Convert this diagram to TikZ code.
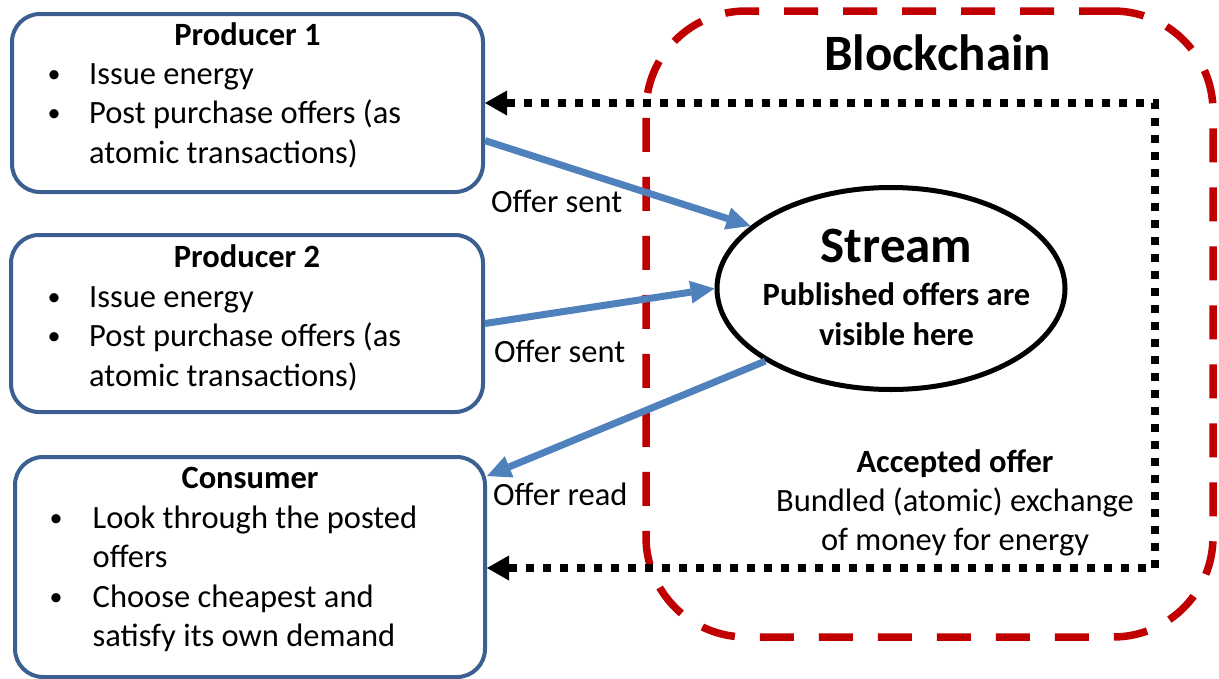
\documentclass[tikz,border=0pt]{standalone}
\usepackage{fontspec}
\setmainfont{Carlito}
\usepackage{array}
\usetikzlibrary{shapes.geometric,arrows.meta,calc}
\definecolor{boxblue}{RGB}{60,95,145}
\definecolor{arrowblue}{RGB}{79,129,189}
\definecolor{chainred}{RGB}{192,0,0}
\newcommand{\bul}{\hspace*{1pt}\raisebox{2pt}{\scalebox{0.8}{\textbullet}}}
\begin{document}
\begin{tikzpicture}[x=1pt,y=-1pt,
  infobox/.style={draw=boxblue, line width=4pt, rounded corners=28pt, rectangle, inner sep=0pt, fill=white},
  boxtitle/.style={font=\fontsize{32.5}{39.5}\selectfont\bfseries, inner sep=0pt, anchor=base},
  listtext/.style={font=\fontsize{32.5}{39.5}\selectfont, inner sep=0pt, anchor=base west},
  edgelabel/.style={font=\fontsize{32.5}{39.5}\selectfont, inner sep=0pt, anchor=base west},
  bigtitle/.style={font=\fontsize{51}{60}\selectfont\bfseries, inner sep=0pt, anchor=base},
  offer/.style={draw=arrowblue, line width=7pt, -{Triangle[length=24pt,width=23pt,line width=0pt]}},
  dotline/.style={draw=black, line width=7.5pt, dash pattern=on 8pt off 9pt,
    {Triangle[length=22pt,width=25pt,line width=0pt]}-{Triangle[length=22pt,width=25pt,line width=0pt]}},
  chainbox/.style={draw=chainred, line width=7.5pt, dash pattern=on 34pt off 25pt, rounded corners=100pt, rectangle, inner sep=0pt}
]
\useasboundingbox (0,0) rectangle (1219,678);

% Blockchain container
\node[chainbox, minimum width=567pt, minimum height=626pt] (chain) at (929.5,324) {};
\node[bigtitle] (bctitle) at (937.5,70) {Blockchain};

% Producer 1
\node[infobox, minimum width=471pt, minimum height=178pt] (p1) at (247.5,103) {};
\node[boxtitle] (p1t) at (247.5,45) {Producer 1};
\node[listtext] (p1l) at (46.5,84) {\begin{tabular}[t]{@{}p{42.5pt}@{}l@{}}\bul & Issue energy\\ \bul & Post purchase offers (as\\ & atomic transactions)\end{tabular}};

% Producer 2
\node[infobox, minimum width=472pt, minimum height=177pt] (p2) at (247,323.5) {};
\node[boxtitle] (p2t) at (247,267) {Producer 2};
\node[listtext] (p2l) at (46.5,307) {\begin{tabular}[t]{@{}p{42.5pt}@{}l@{}}\bul & Issue energy\\ \bul & Post purchase offers (as\\ & atomic transactions)\end{tabular}};

% Consumer
\node[infobox, minimum width=470pt, minimum height=220pt] (cons) at (250,567) {};
\node[boxtitle] (const) at (250,488) {Consumer};
\node[listtext] (consl) at (48.5,528) {\begin{tabular}[t]{@{}p{44pt}@{}l@{}}\bul & Look through the posted\\ & offers\\ \bul & Choose cheapest and\\ & satisfy its own demand\end{tabular}};

% Stream
\node[draw=black, ellipse, line width=5pt, minimum width=348pt, minimum height=202pt, fill=white, inner sep=0pt] (stream) at (891,288.5) {};
\node[bigtitle] (streamt) at (896.5,262) {Stream};
\node[font=\fontsize{32.5}{40}\selectfont\bfseries, inner sep=0pt, anchor=base] (streamd) at (896.5,305) {\begin{tabular}[t]{@{}c@{}}Published offers are\\visible here\end{tabular}};

% Accepted offer
\node[font=\fontsize{32.5}{39}\selectfont, inner sep=0pt, anchor=base] (acc) at (955,472) {\begin{tabular}[t]{@{}c@{}}\textbf{Accepted offer}\\Bundled (atomic) exchange\\of money for energy\end{tabular}};

% Edge labels
\node[edgelabel] (l1) at (491,212) {Offer sent};
\node[edgelabel] (l2) at (494,362) {Offer sent};
\node[edgelabel] (l3) at (493,505) {Offer read};

% Dotted accepted-offer connector
\coordinate (c1) at (1155,103);
\coordinate (c2) at (1155,568);
\draw[dotline] (p1.east |- c1) -- (c1) -- (c2) -- (cons.east |- c2);

% Blue offer arrows
\draw[offer] (p1.-9) -- (stream.156);
\draw[offer] (p2.east) -- (stream.west);
\draw[offer] (stream.210) -- (cons.21);
\end{tikzpicture}
\end{document}
